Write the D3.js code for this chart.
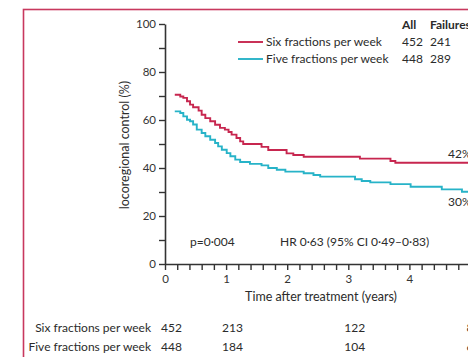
<!DOCTYPE html>
<html>
<head>
<meta charset="utf-8">
<script src="https://cdn.jsdelivr.net/npm/d3@7/dist/d3.min.js"></script>
<style>
  html, body { margin: 0; padding: 0; background: #ffffff; overflow: hidden; }
  svg { display: block; }
  text { font-family: Lato, "Open Sans", sans-serif; fill: #2b2b2b; }
</style>
</head>
<body>
<svg id="chart" width="468" height="357"></svg>
<script>
// Kaplan-Meier locoregional control, six vs five fractions per week
const groups = ["Six fractions per week", "Five fractions per week"];
const groupTotals = [452, 448];
const groupFailures = [241, 289];

// step times (years) and locoregional control (%) after each step
const sixTimes  = [0.16, 0.25, 0.30, 0.36, 0.41, 0.46, 0.55, 0.60, 0.66, 0.74, 0.82, 0.90, 0.98, 1.04, 1.09, 1.17, 1.23, 1.28, 1.58, 1.69, 1.99, 2.10, 2.27, 3.19, 3.69, 3.77, 5.40];
const sixValues = [70.5, 69.8, 69.2, 67.8, 66.4, 65.3, 63.9, 62.2, 60.8, 59.5, 58.0, 56.7, 56.0, 55.0, 53.9, 52.5, 51.1, 50.0, 48.8, 47.5, 46.1, 45.4, 44.7, 43.9, 42.9, 42.2, 42.2];

const fiveTimes  = [0.16, 0.25, 0.30, 0.36, 0.41, 0.46, 0.52, 0.60, 0.66, 0.74, 0.82, 0.87, 0.93, 1.01, 1.07, 1.15, 1.23, 1.39, 1.58, 1.69, 1.83, 1.97, 2.27, 2.43, 2.54, 3.11, 3.22, 3.36, 3.69, 4.02, 4.53, 4.86, 5.40];
const fiveValues = [63.6, 62.9, 61.5, 60.1, 59.5, 58.1, 56.0, 54.6, 53.2, 51.8, 50.4, 49.0, 47.6, 46.2, 44.9, 43.5, 42.5, 41.7, 41.1, 40.0, 39.3, 38.5, 37.8, 37.1, 36.4, 35.3, 34.6, 34.0, 33.3, 32.2, 31.1, 30.1, 30.1];

const endLabels = ["42%", "30%"];
const endLabelValues = [42, 30];

// numbers at risk
const riskTimes = [0, 1, 3, 5];
const riskSix  = [452, 213, 122, 84];
const riskFive = [448, 184, 104, 63];

const yTicks = [0, 10, 20, 30, 40, 50, 60, 70, 80, 90, 100];
const xTicks = d3.range(0, 30.5, 1).map(d => d / 5);

const colors = ["#c7264f", "#27b3c8"];
const frameColor = "#c8385e";
const ink = "#333333";

const svg = d3.select("#chart");

// outer panel frame
svg.append("rect")
  .attr("x", 23.5).attr("y", 9.5)
  .attr("width", 700).attr("height", 600)
  .attr("fill", "none").attr("stroke", frameColor).attr("stroke-width", 1.6);

const x = d3.scaleLinear().domain([0, 6]).range([165, 165 + 6 * 61.1]);
const y = d3.scaleLinear().domain([0, 100]).range([264, 24]);

// y axis
const yAxis = svg.append("g")
  .attr("transform", `translate(${x(0)},0)`)
  .call(d3.axisLeft(y).tickValues(yTicks).tickSize(6).tickSizeOuter(0).tickPadding(3)
    .tickFormat(d => d % 20 === 0 ? d : ""));
yAxis.selectAll("text").style("font-size", "11.5px").attr("dy", "0.34em");

// x axis
const xAxis = svg.append("g")
  .attr("transform", `translate(0,${y(0)})`)
  .call(d3.axisBottom(x).tickValues(xTicks).tickSize(6).tickSizeOuter(0).tickPadding(5)
    .tickFormat(d => Math.abs(d - Math.round(d)) < 1e-6 ? Math.round(d) : ""));
xAxis.selectAll("text").style("font-size", "11.5px");

[yAxis, xAxis].forEach(g => {
  g.select(".domain").attr("stroke", ink).attr("stroke-width", 1.6);
  g.selectAll(".tick line").attr("stroke", ink).attr("stroke-width", 1.4);
  g.selectAll(".tick text").style("fill", ink).style("font-family", "Lato, sans-serif");
});

// axis titles
svg.append("text")
  .attr("transform", `translate(129,${(y(0) + y(100)) / 2 + 1}) rotate(-90)`)
  .attr("text-anchor", "middle")
  .style("font-size", "12.5px")
  .text("locoregional control (%)");

svg.append("text")
  .attr("x", 321).attr("y", 300.5)
  .attr("text-anchor", "middle")
  .style("font-size", "12.5px")
  .text("Time after treatment (years)");

// survival curves
const line = d3.line()
  .x(d => x(d[0]))
  .y(d => y(d[1]))
  .curve(d3.curveStepAfter);

const series = [
  d3.zip(sixTimes, sixValues),
  d3.zip(fiveTimes, fiveValues)
];

svg.selectAll("path.km")
  .data(series)
  .join("path")
  .attr("class", "km")
  .attr("d", line)
  .attr("fill", "none")
  .attr("stroke", (d, i) => colors[i])
  .attr("stroke-width", 1.9);

// end-of-follow-up labels
svg.selectAll("text.endlab")
  .data(endLabels)
  .join("text")
  .attr("class", "endlab")
  .attr("x", 448)
  .attr("y", (d, i) => i === 0 ? y(endLabelValues[i]) - 5 : y(endLabelValues[i]) + 14)
  .style("font-size", "12px")
  .text(d => d);

// statistics
svg.append("text")
  .attr("x", 190).attr("y", 246)
  .style("font-size", "12px")
  .text("p=0·004");
svg.append("text")
  .attr("x", 280).attr("y", 246)
  .style("font-size", "12px")
  .text("HR 0·63 (95% CI 0·49–0·83)");

// legend
const legend = svg.append("g");
legend.append("text").attr("x", 402).attr("y", 29).style("font-size", "12px")
  .style("font-weight", "bold").text("All");
legend.append("text").attr("x", 430).attr("y", 29).style("font-size", "12px")
  .style("font-weight", "bold").text("Failures");
groups.forEach((g, i) => {
  const ly = 42 + i * 17;
  legend.append("line")
    .attr("x1", 238).attr("x2", 263).attr("y1", ly).attr("y2", ly)
    .attr("stroke", colors[i]).attr("stroke-width", 1.9);
  legend.append("text").attr("x", 266).attr("y", ly + 4).style("font-size", "12px").text(g);
  legend.append("text").attr("x", 402).attr("y", ly + 4).style("font-size", "12px").text(groupTotals[i]);
  legend.append("text").attr("x", 430).attr("y", ly + 4).style("font-size", "12px").text(groupFailures[i]);
});

// numbers at risk table
const riskRows = [riskSix, riskFive];
riskRows.forEach((row, i) => {
  const ry = 332 + i * 19;
  svg.append("text")
    .attr("x", 151).attr("y", ry)
    .attr("text-anchor", "end")
    .style("font-size", "12px")
    .text(groups[i]);
  svg.selectAll(null)
    .data(row)
    .join("text")
    .attr("x", (d, j) => x(riskTimes[j]) - 4)
    .attr("y", ry)
    .style("font-size", "12px")
    .text(d => d);
});
</script>
</body>
</html>
